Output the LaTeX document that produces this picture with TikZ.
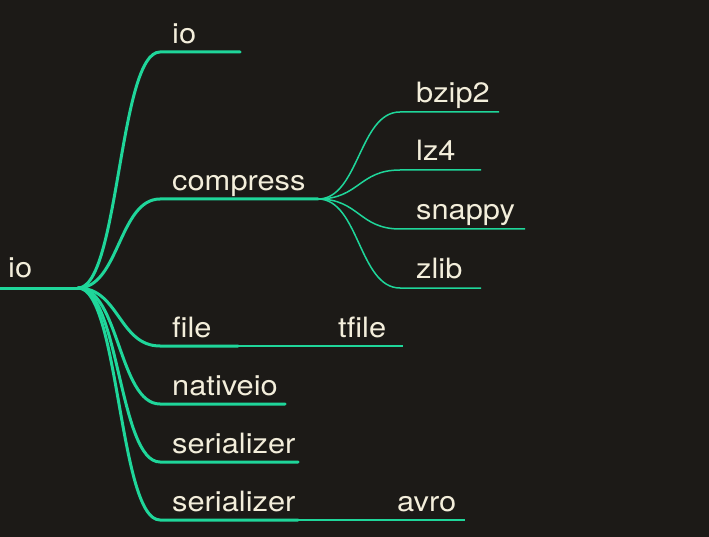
\documentclass[tikz,border=0pt]{standalone}
\usepackage{fontspec}
\setmainfont[FakeStretch=1.1]{TeX Gyre Heros}
\definecolor{bgc}{HTML}{1C1A17}
\definecolor{linec}{HTML}{1FD69A}
\definecolor{txtc}{HTML}{F3EEDB}
\begin{document}
\begin{tikzpicture}[x=1pt,y=-1pt,
  lab/.style={anchor=base west,inner sep=0pt,text=txtc,font=\fontsize{28}{30}\selectfont},
  thick1/.style={draw=linec,line width=3pt},
  thin1/.style={draw=linec,line width=1.5pt}]
\fill[bgc] (0,0) rectangle (709,537);
\useasboundingbox (0,0) rectangle (709,537);
% root
\coordinate (r0) at (0,288);
\coordinate (r1) at (78,288);
\node[lab] (tRoot) at (8,277) {io};
\draw[thick1] (r0) -- (r1);
% level 1 coordinates
\coordinate (a0) at (160,52);  \coordinate (a1) at (240,52);
\coordinate (b0) at (160,199); \coordinate (b1) at (318,199);
\coordinate (c0) at (160,346); \coordinate (c1) at (238,346);
\coordinate (d0) at (160,404); \coordinate (d1) at (285,404);
\coordinate (e0) at (160,462); \coordinate (e1) at (298,462);
\coordinate (f0) at (160,520); \coordinate (f1) at (298,520);
\node[lab] (tA) at (172,44) {io};
\node[lab] (tB) at (172,191) {compress};
\node[lab] (tC) at (172,337) {file};
\node[lab] (tD) at (172,395) {nativeio};
\node[lab] (tE) at (172,453) {serializer};
\node[lab] (tF) at (172,511) {serializer};
\foreach \n/\y in {a/52,b/199,c/346,d/404,e/462,f/520}{
  \draw[thick1,line cap=round] (r1) .. controls (119,288) and (119,\y) .. (\n0) -- (\n1);
}
% compress children
\coordinate (g0) at (400,112); \coordinate (g1) at (499,112);
\coordinate (h0) at (400,170); \coordinate (h1) at (481,170);
\coordinate (i0) at (400,229); \coordinate (i1) at (525,229);
\coordinate (j0) at (400,288); \coordinate (j1) at (481,288);
\node[lab] (tG) at (416,103) {bzip2};
\node[lab] (tH) at (416,161) {lz4};
\node[lab] (tI) at (416,220) {snappy};
\node[lab] (tJ) at (416,279) {zlib};
\foreach \n/\y in {g/112,h/170,i/229,j/288}{
  \draw[thin1] (b1) .. controls (359,199) and (359,\y) .. (\n0) -- (\n1);
}
% file -> tfile, serializer -> avro
\coordinate (k1) at (403,346);
\coordinate (m1) at (465,520);
\node[lab] (tK) at (338,337) {tfile};
\node[lab] (tM) at (397,511) {avro};
\draw[thin1] (c1) -- (k1);
\draw[thin1] (f1) -- (m1);
\end{tikzpicture}
\end{document}
